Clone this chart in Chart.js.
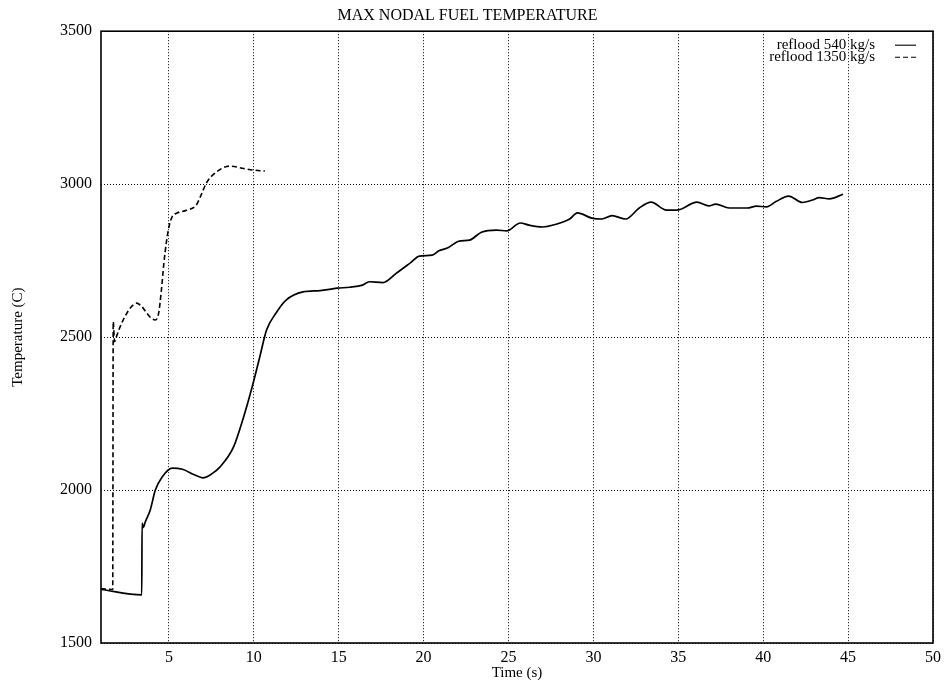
<!DOCTYPE html>
<html>
<head>
<meta charset="utf-8">
<title>Max nodal fuel temperature</title>
<script src="https://cdn.jsdelivr.net/npm/chart.js@4.4.1/dist/chart.umd.min.js"></script>
<style>
  html, body { margin: 0; padding: 0; background: #fff; }
</style>
</head>
<body>
<canvas id="chart-fuel-temp" width="946" height="688"></canvas>
<script>
// reflood 540 kg/s
var time540 = [1, 3.4, 3.42, 3.5, 3.6, 3.9, 4.2, 4.6, 5.2, 5.8, 6.5, 7.0, 7.5, 8.0, 8.8, 9.4, 9.9,
    10.35, 10.75, 11.3, 11.9, 12.9, 13.9, 14.9, 15.65, 16.4, 16.8, 17.6, 18.4, 19.2, 19.75, 20.5,
    20.9, 21.4, 22.1, 22.7, 23.4, 24.3, 24.9, 25.7, 26.2, 27.0, 27.8, 28.6, 29.06, 29.9, 30.5,
    31.1, 31.9, 32.7, 33.4, 34.3, 34.9, 36.1, 36.8, 37.2, 38.0, 39.06, 39.6, 40.2, 40.75, 41.5,
    42.3, 42.9, 43.3, 43.9, 44.7];
var temp540 = [1675, 1657, 1892, 1878, 1895, 1935, 2000, 2043, 2072, 2068, 2050, 2040, 2052, 2075, 2140, 2239, 2337,
    2435, 2523, 2578, 2621, 2648, 2652, 2660, 2663, 2670, 2681, 2678, 2709, 2742, 2765, 2768,
    2782, 2791, 2814, 2817, 2843, 2850, 2847, 2873, 2866, 2860, 2869, 2886, 2906, 2889, 2886,
    2897, 2886, 2922, 2941, 2915, 2915, 2941, 2929, 2935, 2922, 2922, 2928, 2926, 2943, 2961,
    2940, 2948, 2956, 2952, 2967];

// reflood 1350 kg/s
var time1350 = [1, 1.69, 1.72, 1.8, 1.9, 2.1, 2.4, 2.8, 3.1, 3.4, 3.7, 4.0, 4.2, 4.4, 4.55, 4.7,
    4.85, 5.0, 5.2, 5.45, 6.04, 6.6, 6.9, 7.2, 7.8, 8.6, 9.4, 10.0, 10.65];
var temp1350 = [1678, 1675, 2550, 2485, 2500, 2530, 2566, 2600, 2611, 2600, 2578, 2560, 2556, 2580, 2650, 2740,
    2810, 2860, 2895, 2905, 2915, 2931, 2965, 3003, 3040, 3059, 3051, 3046, 3043];

var xTicks = [5, 10, 15, 20, 25, 30, 35, 40, 45, 50];
var yTicks = [1500, 2000, 2500, 3000, 3500];
var seriesLabels = ['reflood 540 kg/s', 'reflood 1350 kg/s'];

var serif = 'Liberation Serif';

function toPoints(xs, ys) {
    return xs.map(function (x, i) { return { x: x, y: ys[i] }; });
}

// box round the plot and the key in its upper right corner
var frameKey = {
    id: 'frameKey',
    afterDatasetsDraw: function (chart) {
        var ctx = chart.ctx;
        var a = chart.chartArea;
        ctx.save();
        ctx.strokeStyle = '#000';
        ctx.lineWidth = 1.6;
        ctx.strokeRect(a.left, a.top, a.right - a.left, a.bottom - a.top);

        ctx.font = '15px "' + serif + '"';
        ctx.textAlign = 'right';
        ctx.textBaseline = 'middle';
        ctx.fillStyle = '#000';
        chart.data.datasets.forEach(function (ds, i) {
            var y = a.top + 14 + i * 12;
            ctx.fillText(ds.label, a.right - 58, y);
            ctx.beginPath();
            ctx.setLineDash(ds.borderDash || []);
            ctx.lineWidth = 1.1;
            ctx.moveTo(a.right - 38, y);
            ctx.lineTo(a.right - 17, y);
            ctx.stroke();
        });
        ctx.restore();
    }
};

var ctx = document.getElementById('chart-fuel-temp').getContext('2d');

new Chart(ctx, {
    type: 'line',
    data: {
        datasets: [{
            label: seriesLabels[0],
            data: toPoints(time540, temp540),
            borderColor: '#000',
            borderWidth: 1.7,
            pointRadius: 0,
            cubicInterpolationMode: 'monotone',
            fill: false
        }, {
            label: seriesLabels[1],
            data: toPoints(time1350, temp1350),
            borderColor: '#000',
            borderWidth: 1.6,
            borderDash: [5, 3],
            pointRadius: 0,
            cubicInterpolationMode: 'monotone',
            fill: false
        }]
    },
    options: {
        responsive: false,
        animation: false,
        devicePixelRatio: 1,
        layout: { padding: { left: 0, right: 11, top: 0, bottom: 0 } },
        plugins: {
            legend: { display: false },
            tooltip: { enabled: false },
            title: {
                display: true,
                text: 'MAX NODAL FUEL TEMPERATURE',
                color: '#000',
                font: { family: serif, size: 16, weight: 'normal' },
                padding: { top: 6, bottom: 6 }
            }
        },
        scales: {
            x: {
                type: 'linear',
                min: 1,
                max: 50,
                afterBuildTicks: function (scale) {
                    scale.ticks = xTicks.map(function (v) { return { value: v }; });
                },
                afterFit: function (scale) { scale.height = 45; },
                ticks: {
                    color: '#000',
                    font: { family: serif, size: 16 },
                    padding: 5,
                    maxRotation: 0,
                    autoSkip: false,
                    callback: function (value) { return String(value); }
                },
                grid: { color: '#000', lineWidth: 1, drawTicks: false },
                border: { display: false, dash: [1, 2] },
                title: {
                    display: true,
                    text: 'Time (s)',
                    color: '#000',
                    font: { family: serif, size: 15 },
                    padding: { top: 0, bottom: 6 }
                }
            },
            y: {
                min: 1500,
                max: 3500,
                afterBuildTicks: function (scale) {
                    scale.ticks = yTicks.map(function (v) { return { value: v }; });
                },
                afterFit: function (scale) { scale.width = 101; },
                ticks: {
                    color: '#000',
                    font: { family: serif, size: 16 },
                    padding: 9,
                    callback: function (value) { return String(value); }
                },
                grid: { color: '#000', lineWidth: 1, drawTicks: false },
                border: { display: false, dash: [1, 2] },
                title: {
                    display: true,
                    text: 'Temperature (C)',
                    color: '#000',
                    font: { family: serif, size: 15 },
                    padding: { top: 9, bottom: 0 }
                }
            }
        }
    },
    plugins: [frameKey]
});
</script>
</body>
</html>
